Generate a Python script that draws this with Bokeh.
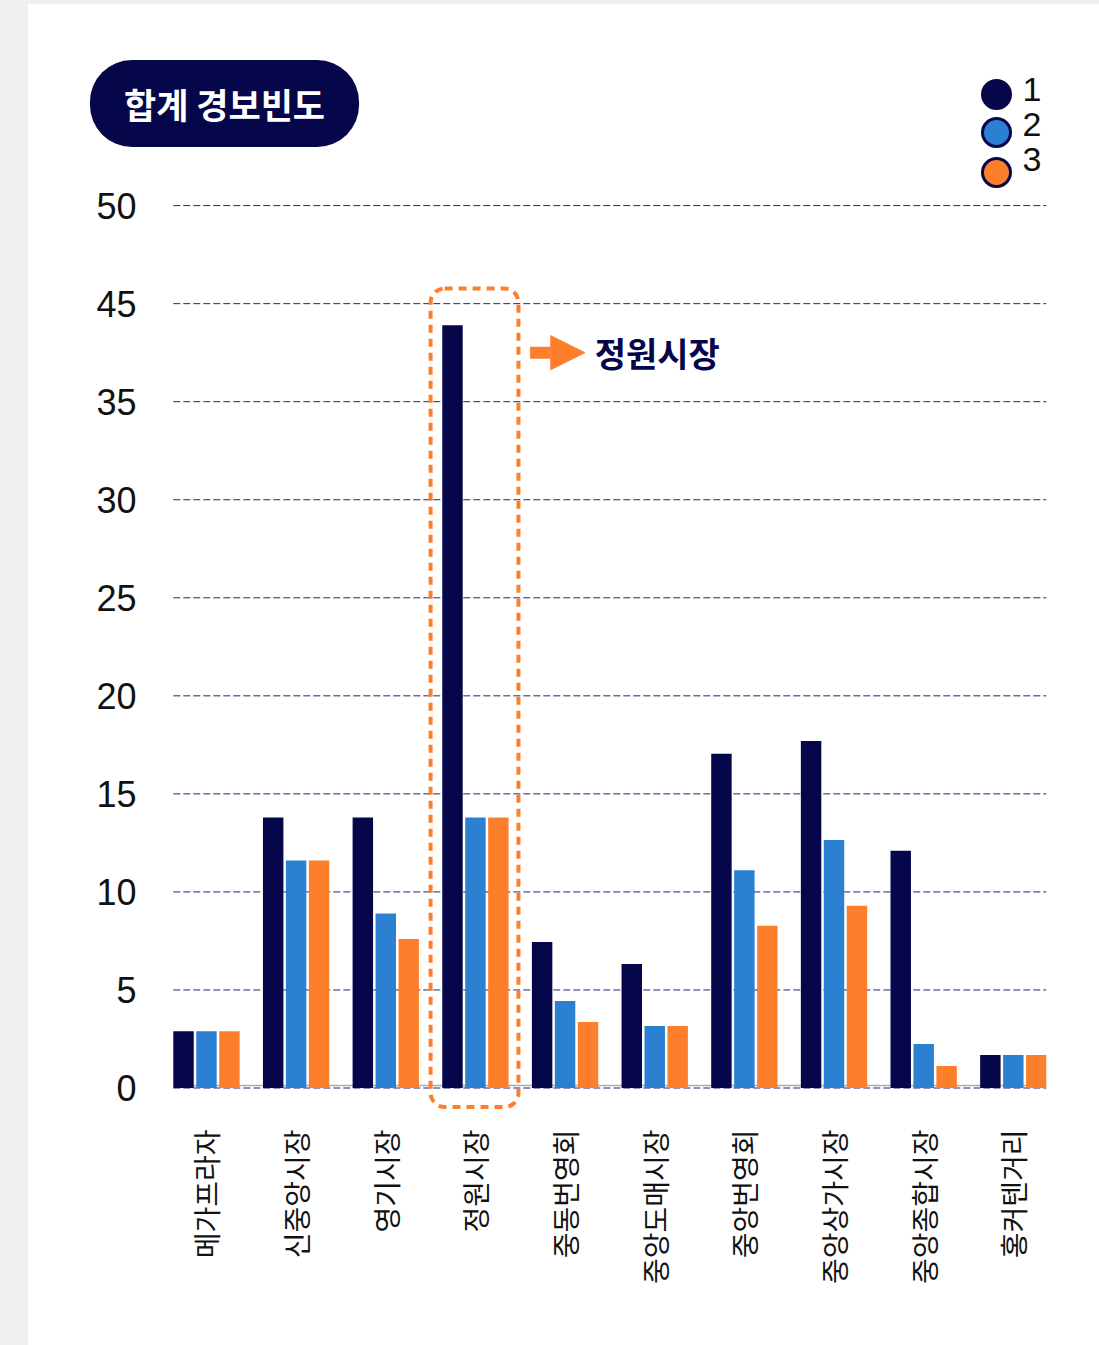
import numpy as np
from bokeh.plotting import figure
from bokeh.models import (ColumnDataSource, Range1d, FixedTicker, Label, BoxAnnotation,
                          Arrow, NormalHead, Spacer)
from bokeh.layouts import row, column
from bokeh.transform import dodge
from bokeh.embed import file_html
from bokeh.resources import INLINE

categories = ["메가프라자", "신중앙시장", "영기시장", "정원시장", "중동번영회",
              "중앙도매시장", "중앙번영회", "중앙상가시장", "중앙종합시장", "홍커텐거리"]
series1 = [2.9, 13.8, 13.8, 38.9, 7.45, 6.33, 17.05, 17.7, 12.1, 1.68]
series2 = [2.9, 11.6, 8.9, 13.8, 4.44, 3.16, 11.1, 12.65, 2.24, 1.68]
series3 = [2.9, 11.6, 7.6, 13.8, 3.37, 3.16, 8.27, 9.29, 1.12, 1.68]
series_names = ["1", "2", "3"]
y_ticks = [0, 5, 10, 15, 20, 25, 30, 35, 40, 45]
y_tick_labels = ["0", "5", "10", "15", "20", "25", "30", "35", "45", "50"]
title_text = "합계 경보빈도"
highlight = "정원시장"

NAVY = "#06064a"
BLUE = "#2b80d2"
ORANGE = "#fd7f2b"
GRAY_BG = "#efefef"

xs = list(range(len(categories)))
src = ColumnDataSource(dict(x=xs, s1=series1, s2=series2, s3=series3))

bw = 0.228
off = 0.256
half = off + bw / 2

p = figure(width=1071, height=1341, output_backend="svg", toolbar_location=None,
           x_range=Range1d(-1.3494, len(categories) - 1 + half),
           y_range=Range1d(-1.3, 53.42),
           min_border_left=57, min_border_right=53, min_border_top=36, min_border_bottom=232)
p.outline_line_color = None
p.background_fill_color = "white"
p.border_fill_color = "white"

# baseline and dashed horizontal gridlines (limited to the bar area)
p.segment(x0=[xs[0] - half], x1=[xs[-1] + half], y0=[0.13], y1=[0.13],
          line_color="#a8a8cc", line_width=1.5)
grid_src = ColumnDataSource(dict(y=y_ticks,
                                 x0=[xs[0] - half] * len(y_ticks),
                                 x1=[xs[-1] + half] * len(y_ticks)))
p.segment(x0="x0", x1="x1", y0="y", y1="y", source=grid_src,
          line_color="#22227a", line_width=1, line_dash="7 3", line_alpha=1)

r1 = p.vbar(x=dodge("x", -off), top="s1", width=bw, source=src, fill_color=NAVY, line_color=None)
r2 = p.vbar(x=dodge("x", 0), top="s2", width=bw, source=src, fill_color=BLUE, line_color=None)
r3 = p.vbar(x=dodge("x", off), top="s3", width=bw, source=src, fill_color=ORANGE, line_color=None)

# axes
p.xaxis.ticker = FixedTicker(ticks=xs)
p.xaxis.major_label_overrides = {i: c for i, c in enumerate(categories)}
p.xaxis.major_label_orientation = np.pi / 2
p.xaxis.major_label_text_font = "Noto Sans CJK KR"
p.xaxis.major_label_text_font_size = "28px"
p.xaxis.major_label_text_color = "#111111"
p.xaxis.major_label_standoff = 10
p.xaxis.major_tick_line_color = None
p.xaxis.minor_tick_line_color = None
p.xaxis.axis_line_color = None

p.yaxis.ticker = FixedTicker(ticks=y_ticks)
p.yaxis.major_label_overrides = {t: l for t, l in zip(y_ticks, y_tick_labels)}
p.yaxis.major_label_text_font = "Liberation Sans"
p.yaxis.major_label_text_font_size = "36px"
p.yaxis.major_label_text_color = "#111111"
p.yaxis.major_label_text_align = "left"
p.yaxis.major_label_standoff = -57
p.yaxis.major_tick_line_color = None
p.yaxis.minor_tick_line_color = None
p.yaxis.axis_line_color = None

p.xgrid.grid_line_color = None
p.ygrid.grid_line_color = None

# highlight box around 정원시장
hi = categories.index(highlight)
box = BoxAnnotation(left=hi - 0.5, right=hi + 0.48, bottom=-0.97, top=40.77,
                    fill_alpha=0, line_color=ORANGE, line_alpha=1, line_width=4,
                    line_dash="8 6", border_radius=14)
p.add_layout(box)

arrow = Arrow(end=NormalHead(size=34, fill_color=ORANGE, line_color=ORANGE, line_width=1),
              x_start=hi + 0.61, y_start=37.5, x_end=hi + 1.22, y_end=37.5,
              line_color=ORANGE, line_width=12)
p.add_layout(arrow)
p.add_layout(Label(x=hi + 1.33, y=37.5, text=highlight, text_font="Noto Sans CJK KR",
                   text_font_style="bold", text_font_size="34px", text_color=NAVY,
                   text_align="left", text_baseline="middle"))

# title pill (screen units relative to the plot frame)
p.add_layout(Label(x=139, y=1010, x_units="screen", y_units="screen", text=title_text,
                   text_font="Noto Sans CJK KR", text_font_style="bold",
                   text_font_size="35px", text_color="white",
                   text_align="center", text_baseline="middle",
                   background_fill_color=NAVY,
                   padding={"left": 34, "right": 34, "top": 18, "bottom": 18},
                   border_radius=42))

# legend (circles + labels)
legend_fill = [NAVY, BLUE, ORANGE]
circle_cy = [1019, 981, 941]
label_cy = [1024, 989, 954]
for name, fc, cy, ly in zip(series_names, legend_fill, circle_cy, label_cy):
    p.add_layout(BoxAnnotation(left=897, right=925, bottom=cy - 14, top=cy + 14,
                               left_units="screen", right_units="screen",
                               top_units="screen", bottom_units="screen",
                               fill_color=fc, fill_alpha=1, line_color=NAVY,
                               line_alpha=1, line_width=3, border_radius=14))
    p.add_layout(Label(x=937, y=ly, x_units="screen", y_units="screen", text=name,
                       text_font="Liberation Sans", text_font_size="34px",
                       text_color="#111111", text_align="left", text_baseline="middle"))

layout = column(Spacer(width=1099, height=4, styles={"background-color": GRAY_BG}),
                row(Spacer(width=28, height=1341, styles={"background-color": GRAY_BG}), p))
open("out.html", "w").write(file_html(layout, INLINE))
